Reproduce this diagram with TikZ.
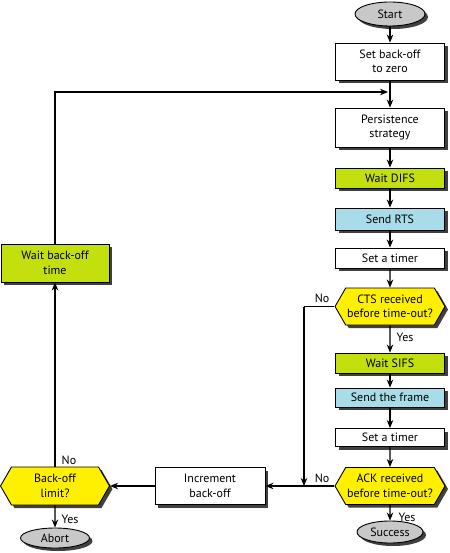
\documentclass[tikz,border=0pt]{standalone}
\usepackage{fontspec}
\setmainfont{PT Sans}
\usetikzlibrary{arrows.meta,shapes.geometric,shapes.symbols,shadows,calc}
\definecolor{lime}{RGB}{196,223,14}
\definecolor{skyb}{RGB}{168,220,232}
\definecolor{yel}{RGB}{255,240,0}
\definecolor{gry}{RGB}{200,200,200}
\begin{document}
\begin{tikzpicture}[x=1pt,y=1pt,
  every node/.style={font=\fontsize{12}{14.5}\selectfont, inner sep=0pt, align=center},
  shd/.style={drop shadow={shadow xshift=3pt,shadow yshift=-3pt,fill=black!75,opacity=1}},
  box/.style={draw, line width=0.9pt, fill=white, minimum width=109pt, shd},
  gbox/.style={box, fill=lime},
  bbox/.style={box, fill=skyb},
  hexa/.style={signal, signal to=west and east, signal pointer angle=120, draw, line width=0.9pt, fill=yel, minimum width=110pt, minimum height=37pt, shd},
  term/.style={ellipse, draw, line width=0.9pt, fill=gry, shd},
  arr/.style={line width=1.1pt, -{Stealth[length=8pt,width=6.5pt]}},
  ln/.style={line width=1.1pt},
  lbl/.style={font=\fontsize{12}{14}\selectfont}
]
\useasboundingbox (0,0) rectangle (449,-553);
\node[term, minimum width=70pt, minimum height=24pt] (start) at (390,-14) {Start};
\node[box, minimum height=37pt] (zero) at (390,-61.5) {Set back-off\\to zero};
\node[box, minimum height=39pt] (pers) at (390,-127.5) {Persistence\\strategy};
\node[gbox, minimum height=20pt] (difs) at (390,-178) {Wait DIFS};
\node[bbox, minimum height=22pt] (rts) at (390,-219) {Send RTS};
\node[box, minimum height=20pt] (t1) at (390,-258) {Set a timer};
\node[hexa] (cts) at (390,-306.5) {CTS received\\before time-out?};
\node[gbox, minimum height=20pt] (sifs) at (390,-363) {Wait SIFS};
\node[bbox, minimum height=19pt] (frame) at (390,-397.5) {Send the frame};
\node[box, minimum height=18pt] (t2) at (390,-437.5) {Set a timer};
\node[hexa] (ack) at (390,-486) {ACK received\\before time-out?};
\node[term, minimum width=66pt, minimum height=22pt] (succ) at (390,-532) {Success};
\node[gbox, minimum width=108pt, minimum height=38pt] (wbo) at (55,-263) {Wait back-off\\time};
\node[hexa, minimum width=109pt, minimum height=38pt] (lim) at (55,-486) {Back-off\\limit?};
\node[box, minimum width=110pt, minimum height=37pt] (inc) at (210,-486) {Increment\\back-off};
\node[term, minimum width=69pt, minimum height=20pt] (abort) at (55,-538) {Abort};

\coordinate (m1) at (390,-92);
\coordinate (c1) at (304,-306.5);
\coordinate (c2) at (304,-486);

\draw[arr] (start) -- (zero);
\draw[arr] (zero) -- (pers);
\draw[arr] (wbo.north) |- ($(m1)+(-2,0)$);
\draw[arr] (pers) -- (difs);
\draw[arr] (difs) -- (rts);
\draw[arr] (rts) -- (t1);
\draw[arr] (t1) -- (cts);
\draw[arr] (cts) -- (sifs);
\draw[arr] (sifs) -- (frame);
\draw[arr] (frame) -- (t2);
\draw[arr] (t2) -- (ack);
\draw[arr] (ack) -- (succ);
\draw[ln] (cts.west) -- (c1);
\draw[arr] (c1) -- (c2);
\draw[arr] (ack.west) -- (inc.east);
\draw[arr] (inc.west) -- (lim.east);
\draw[arr] (lim.north) -- (wbo.south);
\draw[arr] (lim) -- (abort);

\node[lbl] (yes1) at (405,-337) {Yes};
\node[lbl] (no1) at (322,-298) {No};
\node[lbl] (yes2) at (407,-517) {Yes};
\node[lbl] (no2) at (322,-478) {No};
\node[lbl] (no3) at (69,-460) {No};
\node[lbl] (yes3) at (70,-519) {Yes};
\end{tikzpicture}
\end{document}
